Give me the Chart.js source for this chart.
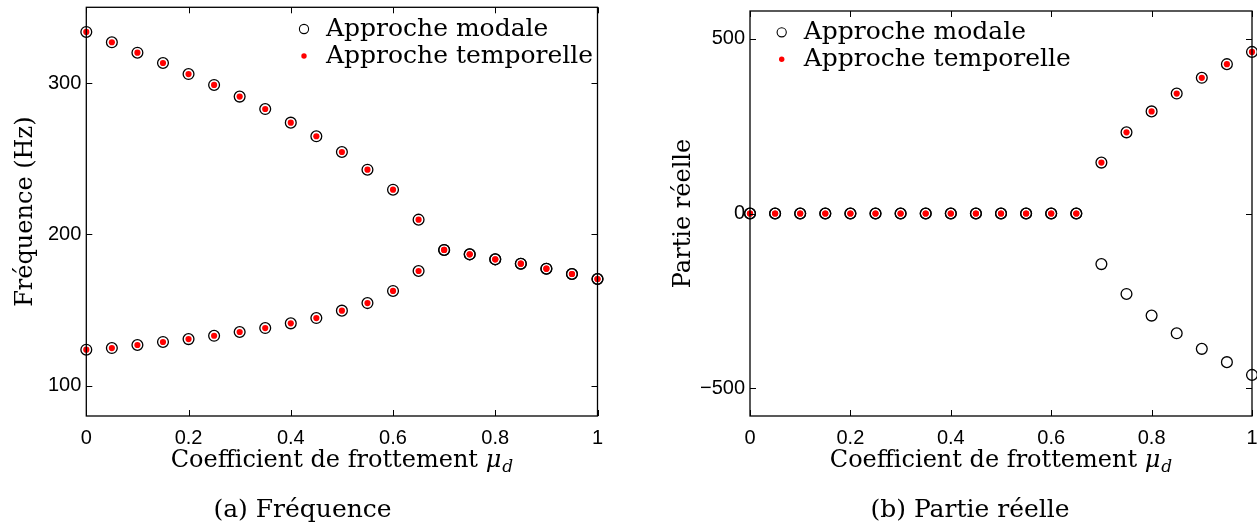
<!DOCTYPE html>
<html><head><meta charset="utf-8">
<script src="https://cdn.jsdelivr.net/npm/chart.js@4.4.1/dist/chart.umd.min.js"></script>
<style>
html,body{margin:0;padding:0;background:#fff;}
body{width:1257px;height:524px;overflow:hidden;position:relative;}
canvas{position:absolute;top:0;}
#c1{left:0;}
#c2{left:630px;}
</style></head>
<body>
<canvas id="c1" width="620" height="524"></canvas>
<canvas id="c2" width="627" height="524"></canvas>
<script>
// ---- data ----
const mu = [0,0.05,0.1,0.15,0.2,0.25,0.3,0.35,0.4,0.45,0.5,0.55,0.6,0.65,0.7,0.75,0.8,0.85,0.9,0.95,1];
const xTicks = [0,0.2,0.4,0.6,0.8,1];
const xTickLabels = ['0','0.2','0.4','0.6','0.8','1'];

const freqMode1 = [333.7,326.9,320.0,313.2,305.9,298.7,291.0,282.8,273.8,264.8,254.4,242.7,229.5,209.7,189.7,186.8,183.5,180.6,177.3,173.8,170.5];
const freqMode2 = [123.8,124.9,126.9,128.9,130.8,133.0,135.5,138.1,141.2,144.7,149.6,154.6,162.6,175.8,189.7,186.8,183.5,180.6,177.3,173.8,170.5];
const freqTicks = [100,200,300];
const freqTickLabels = ['100','200','300'];

const realMode1 = [0,0,0,0,0,0,0,0,0,0,0,0,0,0,145.5,232,292,343,388,427,462];
const realMode2 = [0,0,0,0,0,0,0,0,0,0,0,0,0,0,-144.7,-230,-292,-342.5,-387,-425,-461.5];
const realTemporal1 = [0,0,0,0,0,0,0,0,0,0,0,0,0,0,145.5,232,292,343,388,427,462];
const realTemporal2 = [0,0,0,0,0,0,0,0,0,0,0,0,0,0];
const realTicks = [-500,0,500];
const realTickLabels = ['\u2212500','0','500'];

const legendLabels = ['Approche modale','Approche temporelle'];
const xTitleMain = 'Coefficient de frottement ';
const xTitleSym = '\u03bc';
const xTitleSub = 'd';

// ---- helpers ----
const SERIF = '"DejaVu Serif", serif';
const SANS = '"Liberation Sans", Arial, sans-serif';

function pts(xs, ys){ return ys.map((v,i)=>({x:xs[i], y:v})); }

function modalDs(ys){
  return {data: pts(mu, ys), showLine:false, pointStyle:'circle', pointRadius:5.4,
    pointBorderWidth:1.3, pointBorderColor:'#000', pointBackgroundColor:'rgba(0,0,0,0)',
    borderColor:'#000', backgroundColor:'rgba(0,0,0,0)', clip:false};
}
function tempDs(ys){
  return {data: pts(mu, ys), showLine:false, pointStyle:'circle', pointRadius:3.1,
    pointBorderWidth:0, pointBackgroundColor:'#ff0000', pointBorderColor:'#ff0000',
    borderColor:'#ff0000', backgroundColor:'#ff0000', clip:false};
}

const framePlugin = {
  id:'frame',
  afterDraw(chart, args, o){
    const {ctx, chartArea:a, scales:{x,y}} = chart;
    ctx.save();
    ctx.strokeStyle='#000'; ctx.lineWidth=1.3;
    ctx.strokeRect(a.left, a.top, a.right-a.left, a.bottom-a.top);
    const L=6;
    ctx.lineWidth=1;
    ctx.beginPath();
    x.ticks.forEach(t=>{const p=Math.round(x.getPixelForValue(t.value))+0.5;
      ctx.moveTo(p,a.bottom); ctx.lineTo(p,a.bottom-L); ctx.moveTo(p,a.top); ctx.lineTo(p,a.top+L);});
    y.ticks.forEach(t=>{const p=Math.round(y.getPixelForValue(t.value))+0.5;
      ctx.moveTo(a.left,p); ctx.lineTo(a.left+L,p); ctx.moveTo(a.right,p); ctx.lineTo(a.right-L,p);});
    ctx.stroke();

    // x title with subscript
    ctx.fillStyle='#000';
    ctx.textBaseline='alphabetic';
    ctx.font='24px '+SERIF;
    const w1=ctx.measureText(xTitleMain).width;
    ctx.font='italic 24px '+SERIF;
    const w2=ctx.measureText(xTitleSym).width;
    ctx.font='italic 17px '+SERIF;
    const w3=ctx.measureText(xTitleSub).width;
    const cx=(a.left+a.right)/2, tot=w1+w2+w3+1;
    let sx=cx-tot/2; const by=o.titleY;
    ctx.textAlign='left';
    ctx.font='24px '+SERIF; ctx.fillText(xTitleMain, sx, by); sx+=w1;
    ctx.font='italic 24px '+SERIF; ctx.fillText(xTitleSym, sx, by); sx+=w2+1;
    ctx.font='italic 17px '+SERIF; ctx.fillText(xTitleSub, sx, by+5);

    // legend
    ctx.font='25px '+SERIF;
    ctx.fillText(legendLabels[0], o.legX+22, o.legY);
    ctx.fillText(legendLabels[1], o.legX+22, o.legY+27);
    ctx.beginPath(); ctx.lineWidth=1.1; ctx.strokeStyle='#000';
    ctx.arc(o.legX, o.legY-7, 4.6, 0, Math.PI*2); ctx.stroke();
    ctx.beginPath(); ctx.fillStyle='#ff0000';
    ctx.arc(o.legX, o.legY+20, 2.7, 0, Math.PI*2); ctx.fill();

    // caption
    ctx.fillStyle='#000';
    ctx.font='25px '+SERIF; ctx.textAlign='center';
    ctx.fillText(o.caption, o.capX, o.capY);
    ctx.restore();
  }
};

function makeChart(id, datasets, cfg){
  return new Chart(document.getElementById(id), {
    type:'scatter',
    data:{datasets},
    plugins:[framePlugin],
    options:{
      responsive:false, animation:false, events:[],
      layout:{autoPadding:false, padding:{left:0, right:cfg.padRight, top:cfg.padTop, bottom:0}},
      plugins:{legend:{display:false}, tooltip:{enabled:false},
        frame:{titleY:466.5, legX:cfg.legX, legY:cfg.legY, caption:cfg.caption, capX:cfg.capX, capY:516.5}},
      scales:{
        x:{type:'linear', min:0, max:1,
          grid:{display:false, drawTicks:false}, border:{display:false},
          ticks:{padding:10, color:'#000', font:{family:SANS, size:20},
            callback:(v)=>{const i=xTicks.indexOf(v); return i>=0?xTickLabels[i]:'';}},
          afterBuildTicks:(s)=>{s.ticks = xTicks.map(v=>({value:v}));},
          afterFit:(s)=>{s.height=524-416; s.paddingLeft=0; s.paddingRight=0;}
        },
        y:{type:'linear', min:cfg.yMin, max:cfg.yMax,
          grid:{display:false, drawTicks:false}, border:{display:false},
          ticks:{padding:5, color:'#000', font:{family:SANS, size:20},
            callback:(v)=>{const i=cfg.yTicks.indexOf(v); return i>=0?cfg.yTickLabels[i]:'';}},
          afterBuildTicks:(s)=>{s.ticks = cfg.yTicks.map(v=>({value:v}));},
          afterFit:(s)=>{s.width=cfg.axisW; s.paddingTop=0; s.paddingBottom=0;},
          title:{display:true, text:cfg.yTitle, color:'#000', font:{family:SERIF, size:24}, padding:{top:cfg.yTitlePad, bottom:0}}
        }
      }
    }
  });
}

makeChart('c1', [tempDs(freqMode1), tempDs(freqMode2), modalDs(freqMode1), modalDs(freqMode2)], {
  padRight:620-597.5, padTop:7.3, yMin:80, yMax:350, yTicks:freqTicks, yTickLabels:freqTickLabels,
  axisW:86.3, yTitle:'Fréquence (Hz)', yTitlePad:11, legX:304, legY:36, caption:'(a) Fréquence', capX:302.5
});

makeChart('c2', [tempDs(realTemporal1), tempDs(realTemporal2), modalDs(realMode1), modalDs(realMode2)], {
  padRight:627-622, padTop:11, yMin:-579, yMax:579, yTicks:realTicks, yTickLabels:realTickLabels,
  axisW:120, yTitle:'Partie réelle', yTitlePad:39, legX:151.7, legY:39.3, caption:'(b) Partie réelle', capX:340
});
</script>
</body></html>
